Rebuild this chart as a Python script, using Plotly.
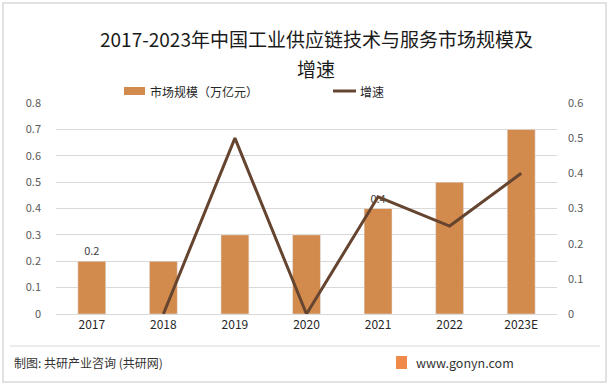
import plotly.graph_objects as go

years = ["2017", "2018", "2019", "2020", "2021", "2022", "2023E"]
market_size = [0.2, 0.2, 0.3, 0.3, 0.4, 0.5, 0.7]
growth = [None, 0.0, 0.5, 0.0, 0.3333, 0.25, 0.4]
bar_labels = ["0.2", "", "", "", "0.4", "", ""]
left_ticks = [0, 0.1, 0.2, 0.3, 0.4, 0.5, 0.6, 0.7, 0.8]
right_ticks = [0, 0.1, 0.2, 0.3, 0.4, 0.5, 0.6]

BAR = "#d38b4d"
LINE = "#654430"
FONT = "Noto Sans CJK SC"

W, H = 614, 385
L, R, T, B = 56, 557, 103, 314

def px(x):
    return (x - L) / (R - L)

def py(y):
    return (B - y) / (B - T)

fig = go.Figure()
fig.add_trace(go.Bar(
    x=years, y=market_size, marker_color=BAR, width=0.39,
    text=bar_labels, textposition="outside",
    textfont=dict(size=11, color="#404040", family=FONT),
    cliponaxis=False, name="市场规模（万亿元）",
))
fig.add_trace(go.Scatter(
    x=years, y=growth, yaxis="y2", mode="lines",
    line=dict(color=LINE, width=3), name="增速",
))

shapes = [
    dict(type="rect", xref="paper", yref="paper", x0=px(3), x1=px(606), y0=py(3), y1=py(382),
         line=dict(color="#d9d9d9", width=1.5), layer="below"),
    dict(type="line", xref="paper", yref="paper", x0=px(10), x1=px(600), y0=py(346), y1=py(346),
         line=dict(color="#d9d9d9", width=1)),
    dict(type="rect", xref="paper", yref="paper", x0=px(124), x1=px(145), y0=py(87), y1=py(95),
         fillcolor=BAR, line=dict(width=0)),
    dict(type="line", xref="paper", yref="paper", x0=px(333), x1=px(356), y0=py(91), y1=py(91),
         line=dict(color=LINE, width=3)),
    dict(type="rect", xref="paper", yref="paper", x0=px(396), x1=px(407), y0=py(356), y1=py(369),
         fillcolor="#f08a4b", line=dict(width=0)),
]

annotations = [
    dict(text="2017-2023年中国工业供应链技术与服务市场规模及", x=px(316), y=py(38), xref="paper", yref="paper",
         showarrow=False, font=dict(size=19, color="#1a1a1a", family=FONT), xanchor="center", yanchor="middle"),
    dict(text="增速", x=px(316), y=py(69), xref="paper", yref="paper",
         showarrow=False, font=dict(size=19, color="#1a1a1a", family=FONT), xanchor="center", yanchor="middle"),
    dict(text="市场规模（万亿元）", x=px(148), y=py(91), xref="paper", yref="paper",
         showarrow=False, font=dict(size=12, color="#262626", family=FONT), xanchor="left", yanchor="middle"),
    dict(text="增速", x=px(358), y=py(91), xref="paper", yref="paper",
         showarrow=False, font=dict(size=12, color="#262626", family=FONT), xanchor="left", yanchor="middle"),
    dict(text="制图: 共研产业咨询 (共研网)", x=px(12), y=py(362), xref="paper", yref="paper",
         showarrow=False, font=dict(size=12, color="#333333", family=FONT), xanchor="left", yanchor="middle"),
    dict(text="www.gonyn.com", x=px(414), y=py(362), xref="paper", yref="paper",
         showarrow=False, font=dict(size=12.5, color="#333333", family=FONT), xanchor="left", yanchor="middle"),
]

fig.update_layout(
    width=W, height=H,
    margin=dict(l=L, r=W - R, t=T, b=H - B),
    paper_bgcolor="white", plot_bgcolor="white",
    showlegend=False,
    font=dict(family=FONT),
    xaxis=dict(type="category", tickfont=dict(size=12, color="#262626"),
               showline=True, linecolor="#d9d9d9", ticks="", showgrid=False),
    yaxis=dict(range=[0, 0.8], tickvals=left_ticks, ticktext=[f"{v:g}" for v in left_ticks],
               showgrid=True, gridcolor="#d9d9d9", zeroline=False,
               tickfont=dict(size=11, color="#595959"), ticks="", ticklabelstandoff=14),
    yaxis2=dict(range=[0, 0.6], tickvals=right_ticks, ticktext=[f"{v:g}" for v in right_ticks],
                overlaying="y", side="right", showgrid=False, zeroline=False,
                tickfont=dict(size=11, color="#595959"), ticks="", ticklabelstandoff=10),
    shapes=shapes, annotations=annotations,
)

fig.write_html("out.html", config={"displayModeBar": False},
               post_script="document.body.style.margin='0';document.body.style.overflow='hidden';")
